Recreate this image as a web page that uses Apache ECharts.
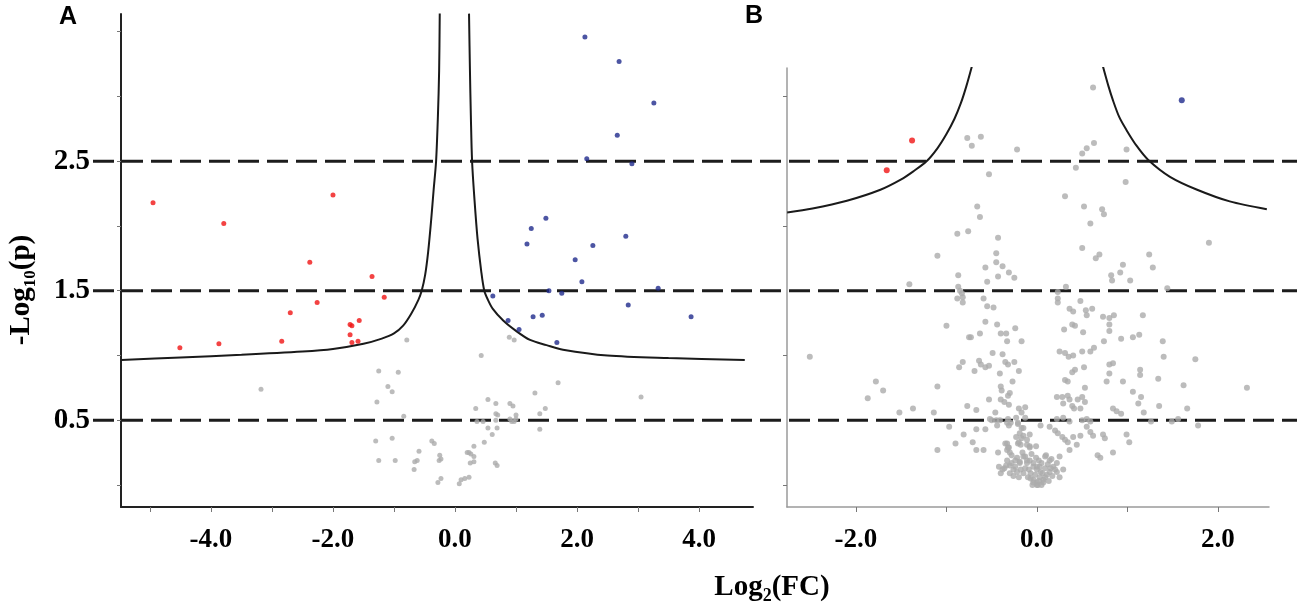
<!DOCTYPE html>
<html lang="en">
<head>
<meta charset="UTF-8">
<title>volcano</title>
<script src="https://cdn.jsdelivr.net/npm/echarts@6/dist/echarts.min.js"></script>
<style>
    html, body { margin: 0; padding: 0; background: #fff; }
    #chart { width: 1303px; height: 610px; }
</style>
</head>
<body>
<div id="chart"></div>
<script>
// ---- panel A points [log2FC, -log10 p] ----
var redA = [[-4.95,2.18],[-3.79,2.02],[-2.0,2.24],[-2.38,1.72],[-1.36,1.61],[-1.16,1.45],[-2.26,1.41],[-2.70,1.33],
    [-1.57,1.27],[-1.72,1.24],[-1.69,1.23],[-1.72,1.16],[-1.69,1.10],[-1.59,1.11],[-2.84,1.11],[-3.87,1.09],[-4.51,1.06]];
var blueA = [[2.13,3.46],[2.69,3.27],[3.26,2.95],[2.66,2.70],[2.16,2.52],[2.90,2.48],[1.49,2.06],[1.25,1.98],[1.18,1.86],
    [2.80,1.92],[2.26,1.85],[1.97,1.74],[2.08,1.57],[3.33,1.52],[1.54,1.50],[1.75,1.48],[0.62,1.46],[2.84,1.39],[3.87,1.30],
    [1.28,1.30],[1.43,1.31],[0.87,1.27],[1.05,1.20],[1.67,1.10]];
var grayA = [[-0.79,1.12],[-1.25,0.88],[-0.93,0.87],[-3.18,0.74],[-1.10,0.76],[-1.03,0.72],[-1.28,0.64],[-0.84,0.53],
    [-1.30,0.34],[-1.03,0.36],[-1.25,0.19],[-0.98,0.19],[-0.38,0.34],[-0.34,0.32],[-0.59,0.26],[-0.62,0.19],[-0.66,0.18],
    [-0.67,0.12],[-0.25,0.23],[-0.23,0.20],[-0.26,0.19],[-0.23,0.05],[-0.28,0.02],[0.07,0.01],[0.10,0.04],[0.16,0.05],
    [0.23,0.06],[0.43,1.00],[0.89,1.14],[0.97,1.12],[0.54,0.66],[0.67,0.63],[0.34,0.59],[0.90,0.63],[0.95,0.61],[0.67,0.55],
    [0.70,0.54],[1.00,0.54],[0.36,0.49],[0.46,0.49],[0.67,0.50],[0.93,0.49],[0.97,0.49],[0.54,0.44],[0.69,0.44],[0.61,0.39],
    [0.48,0.33],[0.31,0.30],[0.20,0.25],[0.23,0.25],[0.26,0.24],[0.31,0.22],[0.25,0.17],[0.31,0.18],[0.66,0.17],[0.69,0.15],
    [1.31,0.71],[1.69,0.79],[1.48,0.59],[1.39,0.55],[1.39,0.43],[3.05,0.68],[0.90,0.51],[1.00,0.51]];
// threshold curve of panel A
var curveALeft = [[-5.47,0.965],[-4.5,0.985],[-3.5,1.005],[-2.5,1.03],[-2.0,1.05],[-1.5,1.09],[-1.2,1.13],[-1.0,1.17],
    [-0.85,1.23],[-0.72,1.32],[-0.60,1.43],[-0.546,1.50],[-0.49,1.62],[-0.44,1.80],[-0.39,2.05],[-0.35,2.28],
    [-0.31,2.50],[-0.28,2.85],[-0.26,3.2],[-0.25,3.64]];
var curveARight = [[0.23,3.64],[0.245,3.2],[0.26,2.85],[0.28,2.5],[0.32,2.2],[0.37,1.9],[0.43,1.65],[0.48,1.50],
    [0.54,1.43],[0.62,1.36],[0.79,1.27],[1.0,1.19],[1.23,1.12],[1.5,1.08],[1.77,1.045],[2.5,1.0],[3.5,0.98],[4.75,0.965]];

// ---- panel B points ----
var redB = [[-1.38,2.66],[-1.66,2.43]];
var blueB = [[1.60,2.97]];
var grayB = [
    [-0.77,2.68],[-0.62,2.69],[-0.72,2.62],[-0.22,2.59],[-0.53,2.40],[-0.66,2.15],[-0.63,2.07],[-0.88,1.94],[-0.76,1.96],
    [-0.43,1.91],[-1.10,1.77],[-0.45,1.79],[-0.45,1.72],[-0.57,1.68],[-0.38,1.69],[-0.31,1.64],[-0.43,1.61],[-0.87,1.62],
    [-0.25,1.60],[-0.55,1.57],[-1.41,1.55],[-0.87,1.53],[-0.85,1.50],[-0.83,1.48],[-0.82,1.45],[-0.88,1.44],[-0.82,1.41],
    [-0.59,1.44],[-0.55,1.38],[-0.48,1.37],
    [0.62,3.07],[0.63,2.64],[0.55,2.60],[0.50,2.56],[0.99,2.59],[0.43,2.45],[0.98,2.34],[0.31,2.23],[0.52,2.15],[0.72,2.13],
    [0.74,2.09],[0.59,2.02],[1.90,1.87],[0.50,1.83],[0.69,1.78],[0.65,1.75],[1.24,1.78],[0.95,1.70],[1.28,1.68],[0.92,1.64],
    [0.82,1.62],[0.83,1.58],[1.03,1.58],[1.44,1.52],[0.32,1.53],[0.23,1.49],[0.23,1.44],[0.48,1.42],[0.23,1.41],
    [-2.51,0.99],[-1.78,0.80],[-1.70,0.73],[-1.87,0.67],[-1.52,0.56],[-1.37,0.59],[-1.14,0.56],[-1.10,0.76],[-1.00,1.23],
    [-1.10,0.27],[-0.97,0.45],[-0.90,0.32],
    [-0.57,1.26],[-0.44,1.24],[-0.24,1.21],[-0.40,1.17],[-0.34,1.17],[-0.73,1.14],[-0.75,1.14],[-0.63,1.17],[-0.33,1.11],
    [-0.17,1.11],[-0.49,1.02],[-0.38,1.01],[-0.82,0.95],[-0.86,0.91],[-0.64,0.96],[-0.62,0.93],[-0.57,0.91],[-0.53,0.92],
    [-0.69,0.88],[-0.35,0.95],[-0.32,0.93],[-0.25,0.95],[-0.20,0.88],[-0.41,0.86],[-0.27,0.80],[-0.40,0.76],[-0.39,0.73],
    [-0.30,0.71],[-0.32,0.69],[-0.53,0.66],[-0.40,0.66],[-0.36,0.64],[-0.31,0.62],[-0.77,0.61],[-0.67,0.58],[-0.46,0.56],
    [-0.20,0.59],[-0.13,0.60],[-0.17,0.56],[-0.52,0.51],[-0.45,0.50],[-0.32,0.51],[-0.23,0.52],[-0.13,0.52],[-0.44,0.46],
    [-0.31,0.46],[-0.21,0.47],[-0.67,0.43],[-0.57,0.43],[-0.81,0.39],[-0.71,0.33],[-0.67,0.27],[-0.59,0.27],[-0.43,0.25],
    [-0.17,0.44],[-0.15,0.38],[-0.20,0.33],[-0.11,0.31],[-0.08,0.30],[-0.33,0.32],[-0.31,0.29],
    [-0.50,0.50],[-0.41,0.50],[-0.33,0.48],[-0.29,0.48],[-0.21,0.48],[-0.15,0.44],[-0.19,0.40],
    [-0.23,0.37],[-0.17,0.36],[-0.11,0.35],[-0.08,0.39],[-0.35,0.32],[-0.32,0.29],[-0.33,0.27],[-0.30,0.25],[-0.21,0.32],
    [-0.18,0.31],[-0.08,0.29],[-0.01,0.30],[0.04,0.46],
    [-0.42,0.14],[-0.36,0.13],[-0.30,0.15],[-0.24,0.14],[-0.19,0.17],[-0.13,0.22],[-0.11,0.19],[-0.04,0.17],[0.00,0.14],
    [-0.40,0.09],[-0.30,0.09],[-0.22,0.10],[-0.15,0.09],[-0.10,0.06],[-0.04,0.04],[0.00,0.02],[0.01,0.00],
    [-0.38,0.12],[-0.33,0.19],[-0.28,0.17],[-0.22,0.21],[-0.19,0.18],[-0.15,0.22],[-0.11,0.17],[-0.08,0.19],[-0.04,0.14],
    [0.00,0.12],[0.03,0.06],[0.07,0.04],[0.11,0.08],[0.14,0.10],[0.18,0.14],[0.22,0.10],[0.25,0.06],[-0.04,0.02],[0.00,0.00],
    [0.07,0.02],[0.04,0.10],[0.09,0.13],[-0.07,0.09],[0.02,0.19],[-0.26,0.12],[0.12,0.16],[0.16,0.20],[-0.06,0.24],
    [-0.34,0.15],[-0.26,0.07],[-0.18,0.12],[-0.13,0.13],[-0.07,0.05],[-0.02,0.08],[0.03,0.14],[0.06,0.09],[0.09,0.06],
    [0.13,0.03],[0.17,0.07],[0.20,0.12],[-0.24,0.19],[-0.16,0.25],[-0.09,0.12],[-0.01,0.21],[0.05,0.17],[0.10,0.23],
    [-0.28,0.23],[-0.20,0.06],[0.02,0.03],[-0.05,0.00],[0.05,0.00],[0.15,0.13],
    [0.36,1.36],[0.40,1.34],[0.54,1.35],[0.61,1.36],[0.55,1.31],[0.73,1.30],[0.80,1.29],[0.85,1.31],[0.80,1.24],[0.80,1.19],
    [1.17,1.31],[0.30,1.20],[0.39,1.24],[0.42,1.23],[0.51,1.18],[0.74,1.11],[0.93,1.13],[1.06,1.14],[1.13,1.16],[0.25,1.03],
    [0.31,1.02],[0.35,0.99],[0.40,1.00],[0.50,1.03],[0.59,1.03],[0.63,1.06],[0.84,0.94],[0.80,0.93],[0.52,0.91],[0.42,0.89],
    [0.39,0.87],[0.80,0.86],[1.14,0.89],[1.14,0.85],[0.31,0.81],[0.34,0.80],[0.77,0.80],[0.95,0.80],[0.53,0.75],[1.06,0.72],
    [1.15,0.68],[0.22,0.68],[0.28,0.68],[0.34,0.69],[0.36,0.66],[0.45,0.66],[0.50,0.68],[0.29,0.63],[0.39,0.61],[0.41,0.59],
    [0.48,0.59],[0.53,0.64],[0.84,0.59],[0.88,0.57],[0.93,0.55],[1.12,0.63],[1.18,0.56],
    [1.39,1.11],[1.40,0.99],[1.75,0.97],[1.34,0.82],[1.62,0.77],[2.32,0.75],[1.35,0.61],[1.66,0.59],[1.26,0.49],[1.49,0.49],
    [1.56,0.51],[1.78,0.46],[0.75,0.36],
    [0.22,0.51],[0.29,0.52],[0.36,0.49],[0.50,0.50],[0.55,0.51],[0.59,0.49],
    [0.14,0.45],[0.20,0.42],[0.23,0.40],[0.28,0.37],[0.31,0.35],[0.34,0.33],[0.40,0.37],[0.44,0.31],[0.48,0.38],[0.55,0.45],
    [0.59,0.41],[0.62,0.38],[0.73,0.39],[0.84,0.25],[0.99,0.39],[1.02,0.33],[0.67,0.23],[0.70,0.21],[0.09,0.22],[0.14,0.19],
    [0.22,0.17],[0.29,0.12],[0.25,0.22],[0.36,0.27]];
var curveBLeft = [[-2.76,2.105],[-2.48,2.135],[-2.10,2.195],[-1.73,2.28],[-1.50,2.36],[-1.37,2.42],[-1.22,2.50],
    [-1.10,2.60],[-1.00,2.71],[-0.91,2.83],[-0.84,2.95],[-0.78,3.08],[-0.72,3.23]];
var curveBRight = [[0.73,3.23],[0.79,3.08],[0.84,2.97],[0.91,2.84],[0.99,2.74],[1.10,2.62],[1.23,2.51],[1.47,2.38],
    [1.77,2.28],[2.13,2.19],[2.54,2.13]];

// ---- axes ----
var yLevels = [0.5, 1.5, 2.5];           // dashed cut-off lines
var yTicksA = [0, 0.5, 1, 1.5, 2, 2.5, 3, 3.5];
var yTicksB = [0, 1, 2, 3];
var yLabels = [0.5, 1.5, 2.5];
var xTicksA = [-5, -4, -3, -2, -1, 0, 1, 2, 3, 4];
var xLabelsA = [-4, -2, 0, 2, 4];
var xTicksB = [-2, -1, 0, 1, 2];
var xLabelsB = [-2, 0, 2];

var serif = "'Liberation Serif', 'Times New Roman', serif";
var chart = echarts.init(document.getElementById('chart'));

function xAxisCfg(grid, min, max, ticks, labels, col) {
    return {
        gridIndex: grid, type: 'value', min: min, max: max,
        splitLine: { show: false },
        axisLine: { onZero: false, lineStyle: { color: col, width: grid === 0 ? 2 : 1.5 } },
        axisTick: { customValues: ticks, length: 5, lineStyle: { color: '#777' } },
        axisLabel: {
            customValues: labels, margin: 20,
            formatter: function (v) { return v.toFixed(1); },
            color: '#000', fontFamily: serif, fontWeight: 'bold', fontSize: 27
        }
    };
}
function yAxisCfg(grid, min, max, ticks, labels, col) {
    return {
        gridIndex: grid, type: 'value', min: min, max: max,
        splitLine: { show: false },
        axisLine: { onZero: false, lineStyle: { color: col, width: grid === 0 ? 2 : 1.5 } },
        axisTick: { customValues: ticks, length: 4, lineStyle: { color: '#777' } },
        axisLabel: {
            show: labels.length > 0, customValues: labels, margin: 31,
            formatter: function (v) { return v.toFixed(1); },
            color: '#000', fontFamily: serif, fontWeight: 'bold', fontSize: 29
        }
    };
}
function dots(name, data, color, size, xi) {
    return { name: name, type: 'scatter', xAxisIndex: xi, yAxisIndex: xi, data: data,
        symbolSize: size, itemStyle: { color: color }, z: 4, silent: true };
}
function curve(data, xi) {
    return { type: 'line', xAxisIndex: xi, yAxisIndex: xi, data: data, smooth: 0.3,
        showSymbol: false, lineStyle: { color: '#1a1a1a', width: 2 }, z: 3, silent: true };
}

var series = [];
yLevels.forEach(function (v) {
    series.push({ type: 'line', xAxisIndex: 2, yAxisIndex: 2, data: [[0, v], [1, v]], showSymbol: false,
        lineStyle: { color: '#1c1c1c', width: 3, type: [21, 8] }, z: 1, silent: true });
});
series.push(dots('grayA', grayA, '#ababab', 5, 0));
series.push(dots('redA', redA, '#f01414', 5, 0));
series.push(dots('blueA', blueA, '#1f2a8c', 5, 0));
series.push(curve(curveALeft, 0));
series.push(curve(curveARight, 0));
series.push(dots('grayB', grayB, '#ababab', 6, 1));
series.push(dots('redB', redB, '#f01414', 6, 1));
series.push(dots('blueB', blueB, '#1f2a8c', 6, 1));
series.push(curve(curveBLeft, 1));
series.push(curve(curveBRight, 1));

var option = {
    animation: false,
    backgroundColor: '#fff',
    grid: [
        { left: 121, top: 14, width: 632, height: 493 },
        { left: 787, top: 68, width: 482, height: 439 },
        { left: 93, top: 14, width: 1204, height: 493 }
    ],
    xAxis: [
        xAxisCfg(0, -5.475, 4.885, xTicksA, xLabelsA, '#222'),
        xAxisCfg(1, -2.762, 2.564, xTicksB, xLabelsB, '#9a9a9a'),
        { gridIndex: 2, type: 'value', min: 0, max: 1, show: false }
    ],
    yAxis: [
        yAxisCfg(0, -0.17, 3.637, yTicksA, yLabels, '#222'),
        yAxisCfg(1, -0.17, 3.22, yTicksB, [], '#9a9a9a'),
        { gridIndex: 2, type: 'value', min: -0.17, max: 3.637, show: false }
    ],
    graphic: [
        { type: 'text', left: 59, top: 5, style: { text: 'A', fontFamily: "'Liberation Sans', Arial, sans-serif",
            fontWeight: 'bold', fontSize: 25, fill: '#000' } },
        { type: 'text', left: 745, top: 4, style: { text: 'B', fontFamily: "'Liberation Sans', Arial, sans-serif",
            fontWeight: 'bold', fontSize: 25, fill: '#000' } },
        { type: 'text', x: 22, y: 290, rotation: Math.PI / 2,
            style: { text: '{a|-Log}{s|10}{a|(p)}', align: 'center', verticalAlign: 'middle',
                rich: {
                    a: { fontFamily: serif, fontWeight: 'bold', fontSize: 29, lineHeight: 34, fill: '#000' },
                    s: { fontFamily: serif, fontWeight: 'bold', fontSize: 17, lineHeight: 17, verticalAlign: 'bottom', fill: '#000' }
                } } },
        { type: 'text', x: 772, y: 588,
            style: { text: '{a|Log}{s|2}{a|(FC)}', align: 'center', verticalAlign: 'middle',
                rich: {
                    a: { fontFamily: serif, fontWeight: 'bold', fontSize: 29, lineHeight: 34, fill: '#000' },
                    s: { fontFamily: serif, fontWeight: 'bold', fontSize: 18, lineHeight: 18, verticalAlign: 'bottom', fill: '#000' }
                } } }
    ],
    series: series
};
chart.setOption(option);
</script>
</body>
</html>
